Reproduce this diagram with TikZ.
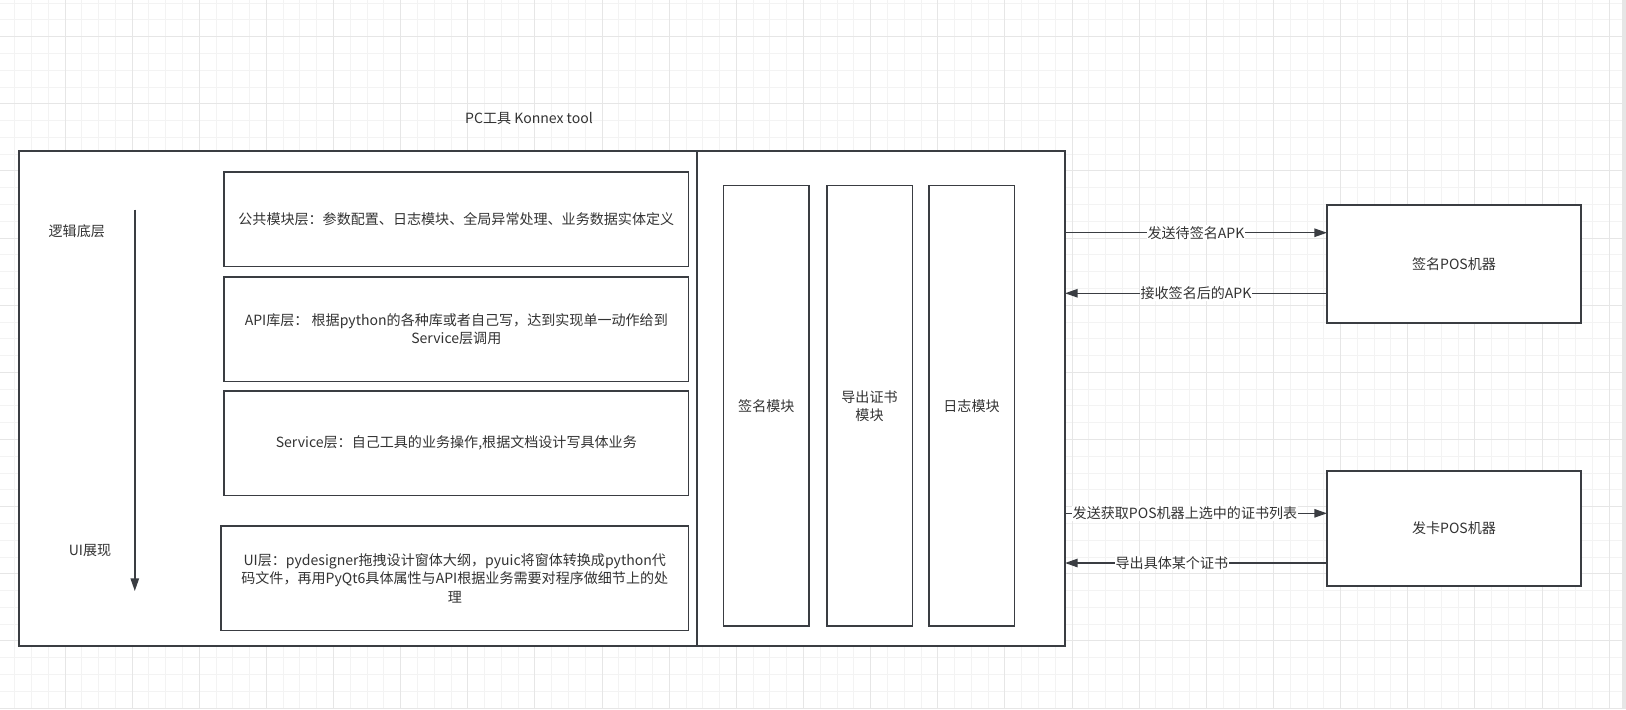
\documentclass[tikz,border=0pt]{standalone}
\usepackage{fontspec}
\setmainfont{Noto Sans CJK SC}
\usetikzlibrary{arrows.meta,calc,positioning}

\definecolor{ink}{HTML}{333333}
\definecolor{edge}{HTML}{3A3D42}
\definecolor{gridminor}{HTML}{F3F3F3}
\definecolor{gridmajor}{HTML}{E6E6E6}

\begin{document}
\begin{tikzpicture}[
    every node/.style={text=ink, font=\fontsize{10}{13}\selectfont},
    box/.style={draw=edge, fill=white, line width=1pt, inner sep=0pt, outer sep=0pt,
        align=center, anchor=north west},
    flow/.style={draw=edge, line width=1pt, -{Triangle[length=9pt,width=6pt]}},
    lbl/.style={fill=white, inner sep=0.6pt}
  ]
    \useasboundingbox (0,0) rectangle (40.65,-17.725);
    \fill[white] (0,0) rectangle (40.65,-17.725);

    % background grid
    \foreach \k in {0,...,97} \draw[gridminor, line width=0.7pt] ({-0.0535+\k*0.4196},0) -- ++(0,-17.725);
    \foreach \k in {0,...,42} \draw[gridminor, line width=0.7pt] (0,{-0.078-\k*0.4196}) -- ++(40.65,0);
    \foreach \k in {0,4,...,96} \draw[gridmajor, line width=0.7pt] ({-0.0535+\k*0.4196},0) -- ++(0,-17.725);
    \foreach \k in {2,6,...,42} \draw[gridmajor, line width=0.7pt] (0,{-0.078-\k*0.4196}) -- ++(40.65,0);
    \fill[gridmajor] (40.55,0) rectangle (40.65,-17.725);

    \node (title) at (13.225,-2.95) {PC工具 Konnex tool};

    % the tool: layer part and module part
    \node[box, line width=1.4pt, minimum width=16.9575cm, minimum height=12.365cm] (layers) at (0.4675,-3.785) {};
    \node[box, line width=1.4pt, minimum width=9.2cm, minimum height=12.365cm] (tool) at (17.425,-3.785) {};

    \coordinate (dtop) at (3.37,-5.2375);
    \coordinate (dbot) at (3.37,-14.775);
    \draw[flow] (dtop) -- (dbot);
    \node (base) at (1.92,-5.775) {逻辑底层};
    \node (uiview) at (2.25,-13.765) {UI展现};

    \node[box, minimum width=11.615cm, minimum height=2.3625cm] (common) at (5.6,-4.3)
        {公共模块层：参数配置、日志模块、全局异常处理、业务数据实体定义};
    \node[box, minimum width=11.615cm, minimum height=2.615cm] (api) at (5.6,-6.925)
        {API库层： 根据python的各种库或者自己写，达到实现单一动作给到\\Service层调用};
    \node[box, minimum width=11.615cm, minimum height=2.6175cm] (service) at (5.6,-9.775)
        {Service层：自己工具的业务操作,根据文档设计写具体业务};
    \node[box, minimum width=11.69cm, minimum height=2.6125cm] (ui) at (5.525,-13.15)
        {UI层：pydesigner拖拽设计窗体大纲，pyuic将窗体转换成python代\\码文件，再用PyQt6具体属性与API根据业务需要对程序做细节上的处\\理};

    \foreach \x/\name/\txt in {18.09/sign/签名模块, 20.67/cert/{导出证书\\模块}, 23.22/log/日志模块}
        \node[box, minimum width=2.135cm, minimum height=11.0075cm] (\name) at (\x,-4.6425) {\txt};

    % POS machines
    \node[box, minimum width=6.35cm, minimum height=2.95cm] (signpos) at (33.175,-5.125) {签名POS机器};
    \node[box, minimum width=6.35cm, minimum height=2.875cm] (cardpos) at (33.175,-11.775) {发卡POS机器};

    \coordinate (s1) at ($(signpos.north west)!0.235!(signpos.south west)$);
    \coordinate (s2) at ($(signpos.north west)!0.748!(signpos.south west)$);
    \coordinate (c1) at ($(cardpos.north west)!0.368!(cardpos.south west)$);
    \coordinate (c2) at ($(cardpos.north west)!0.80!(cardpos.south west)$);

    \draw[flow] (tool.east |- s1) -- node[lbl] {发送待签名APK} (s1);
    \draw[flow] (s2) -- node[lbl] {接收签名后的APK} (tool.east |- s2);
    \draw[flow] (tool.east |- c1) -- node[lbl, pos=0.458] {发送获取POS机器上选中的证书列表} (c1);
    \draw[flow] (c2) -- node[lbl, pos=0.592] {导出具体某个证书} (tool.east |- c2);
\end{tikzpicture}
\end{document}
